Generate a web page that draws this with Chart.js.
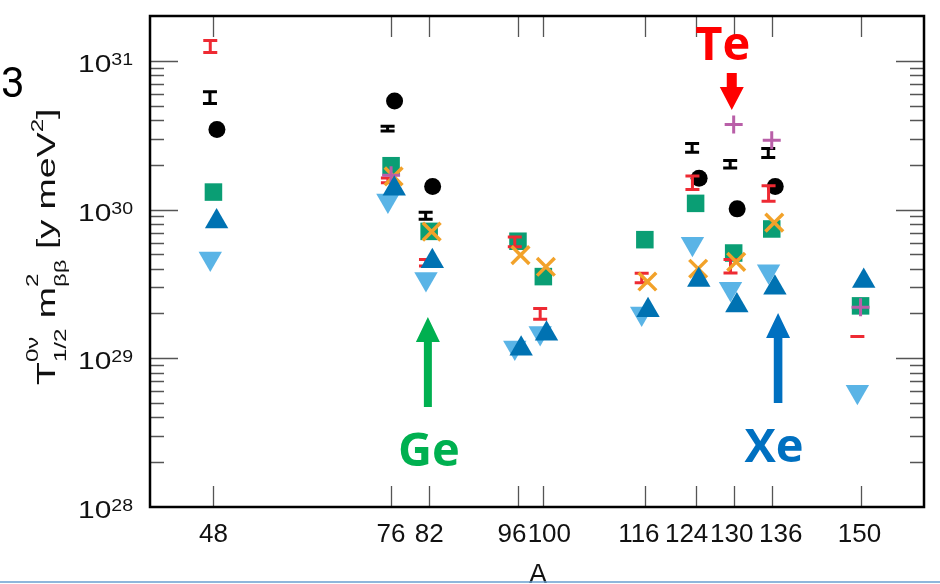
<!DOCTYPE html>
<html>
<head>
<meta charset="utf-8">
<script src="https://cdn.jsdelivr.net/npm/chart.js@4/dist/chart.umd.min.js"></script>
<style>
  html, body { margin: 0; padding: 0; background: #fff; }
  #wrap { width: 940px; height: 584px; position: relative; }
</style>
</head>
<body>
<div id="wrap"><canvas id="c" width="940" height="584"></canvas></div>
<script>
// Mass numbers of the double-beta emitters (x axis)
const massNumbers = [48, 76, 82, 96, 100, 116, 124, 130, 136, 150];

// T1/2 * m_bb^2 in y meV^2, one value per mass number (null = no point)
const blackDots     = [3.45e30, 5.37e30, 1.43e30, null,    null,    null,    1.62e30, 1.01e30, 1.43e30, null];
const greenSquares  = [1.31e30, 1.97e30, 7.13e29, 6.12e29, 3.54e29, 6.27e29, 1.10e30, 5.10e29, 7.40e29, 2.25e29];
const blueUp        = [8.3e29,  1.38e30, 4.49e29, 1.16e29, 1.46e29, 2.10e29, 3.36e29, 2.26e29, 2.98e29, 3.31e29];
const lightBlueDown = [4.69e29, 1.15e30, 3.41e29, 1.18e29, 1.48e29, 2.00e29, 5.89e29, 2.93e29, 3.85e29, 5.96e28];
const orangeCross   = [null,    1.67e30, 7.10e29, 4.94e29, 4.12e29, 3.28e29, 4.00e29, 4.45e29, 8.17e29, null];
const purplePlus    = [null,    1.70e30, null,    null,    null,    null,    null,    3.73e30, 2.92e30, 2.20e29];

// Ranges drawn as I-shaped bars (low / high ends)
const redRangeLow    = [1.11e31, 1.48e30, 4.07e29, 5.5e29, 1.79e29, 3.14e29, 1.33e30, 3.66e29, 1.11e30, 1.40e29];
const redRangeHigh   = [1.40e31, 1.67e30, 4.73e29, 6.7e29, 2.21e29, 3.82e29, 1.72e30, 4.73e29, 1.48e30, 1.40e29];
const blackRangeLow  = [5.05e30, 3.30e30, 8.4e29, null, null, null, 2.37e30, 1.86e30, 2.19e30, null];
const blackRangeHigh = [6.34e30, 3.72e30, 9.8e29, null, null, null, 2.84e30, 2.19e30, 2.63e30, null];

// Decade labels on the y axis
const yDecades = [1e28, 1e29, 1e30, 1e31];

function points(values, shift) {
  return massNumbers
    .map((a, i) => ({ x: a + shift, y: values[i] }))
    .filter(p => p.y != null);
}
function rangePoints(lows, highs, shift) {
  return massNumbers
    .map((a, i) => (lows[i] == null ? null : {
      x: a + shift, y: Math.sqrt(lows[i] * highs[i]), lo: lows[i], hi: highs[i]
    }))
    .filter(p => p !== null);
}

const FONT = '"Liberation Sans", Arial, Helvetica, sans-serif';

// text drawn with a horizontal stretch, right edge at (xr, base)
function wideTextRight(ctx, txt, xr, base, font, sx) {
  ctx.save();
  ctx.font = font;
  ctx.textAlign = 'right';
  ctx.translate(xr, base);
  ctx.scale(sx, 1);
  ctx.fillText(txt, 0, 0);
  const w = ctx.measureText(txt).width * sx;
  ctx.restore();
  return w;
}

// Draws the I-shaped ranges in the dataset stacking order, plus frame, ticks, labels, notes
const decorations = {
  id: 'decorations',
  afterDatasetDraw(chart, args) {
    const ds = chart.data.datasets[args.index];
    if (!ds.rangeColor) return;
    const { ctx, scales: { x, y } } = chart;
    ctx.save();
    ctx.strokeStyle = ds.rangeColor;
    ctx.lineWidth = 3;
    ds.data.forEach(p => {
      const px = x.getPixelForValue(p.x);
      let yl = y.getPixelForValue(p.lo);
      let yh = y.getPixelForValue(p.hi);
      ctx.beginPath();
      if (yl - yh < 3) {
        const m = (yl + yh) / 2;
        ctx.moveTo(px - 7, m); ctx.lineTo(px + 7, m);
      } else {
        yl -= 1.5; yh += 1.5;
        ctx.moveTo(px, yl); ctx.lineTo(px, yh);
        ctx.moveTo(px - 7, yl); ctx.lineTo(px + 7, yl);
        ctx.moveTo(px - 7, yh); ctx.lineTo(px + 7, yh);
      }
      ctx.stroke();
    });
    ctx.restore();
  },
  afterDraw(chart) {
    const { ctx, chartArea: ca, scales: { x, y } } = chart;
    ctx.save();

    // tick marks pointing inward
    ctx.strokeStyle = '#555';
    ctx.lineWidth = 1.3;
    ctx.beginPath();
    massNumbers.forEach(a => {
      const px = Math.round(x.getPixelForValue(a)) + 0.5;
      ctx.moveTo(px, ca.bottom); ctx.lineTo(px, ca.bottom - 21);
      ctx.moveTo(px, ca.top); ctx.lineTo(px, ca.top + 21);
    });
    for (let e = 28; e <= 31; e++) {
      for (let k = 1; k <= 9; k++) {
        const v = k * Math.pow(10, e);
        if (v <= y.min || v >= y.max) continue;
        const py = Math.round(y.getPixelForValue(v)) + 0.5;
        const len = k === 1 ? 28 : 14;
        ctx.moveTo(ca.left, py); ctx.lineTo(ca.left + len, py);
        ctx.moveTo(ca.right, py); ctx.lineTo(ca.right - len, py);
      }
    }
    ctx.stroke();

    // frame
    ctx.strokeStyle = '#000';
    ctx.lineWidth = 2.5;
    ctx.strokeRect(ca.left, ca.top, ca.right - ca.left, ca.bottom - ca.top);

    // x tick labels (crowded ones nudged apart)
    const nudge = { 96: -6, 100: 6, 116: -6, 124: -9, 130: -2, 136: 9, 150: -1 };
    ctx.fillStyle = '#111';
    ctx.font = '26px ' + FONT;
    ctx.textAlign = 'center';
    ctx.textBaseline = 'alphabetic';
    massNumbers.forEach(a => {
      ctx.fillText(String(a), x.getPixelForValue(a) + (nudge[a] || 0), 542);
    });

    // y tick labels 10^n
    yDecades.forEach(v => {
      const py = y.getPixelForValue(v);
      const exp = String(Math.round(Math.log10(v)));
      const w = wideTextRight(ctx, exp, 133, py + 4, '17px ' + FONT, 1.15);
      wideTextRight(ctx, '10', 133 - w, py + 11, '23px ' + FONT, 1.3);
    });

    // x title
    ctx.font = '27px ' + FONT;
    ctx.textAlign = 'center';
    ctx.fillText('A', 538, 583);

    // y title with sub/superscripts, rotated and stretched along the text
    ctx.save();
    ctx.translate(55, 385);
    ctx.rotate(-Math.PI / 2);
    ctx.scale(1.5, 1);
    ctx.textAlign = 'left';
    const big = '25px ' + FONT, small = '16px ' + FONT;
    let cx = 0;
    const put = (t, f, dy) => { ctx.font = f; ctx.fillText(t, cx, dy); return ctx.measureText(t).width; };
    const stack = (sup, sub) => {
      ctx.font = small;
      const w = Math.max(ctx.measureText(sup).width, ctx.measureText(sub).width);
      ctx.fillText(sup, cx, -17);
      ctx.fillText(sub, cx, 11);
      cx += w;
    };
    cx += put('T', big, 0);
    stack('0\u03BD', '1/2');
    cx += 7;
    cx += put('m', big, 0);
    stack('2', '\u03B2\u03B2');
    cx += put(' [y meV', big, 0);
    ctx.font = small; ctx.fillText('2', cx, -12); cx += ctx.measureText('2').width;
    cx += put(']', big, 0);
    ctx.restore();

    // stray slide numeral at the left edge
    ctx.font = '42px Roboto, "Open Sans", sans-serif';
    ctx.textAlign = 'left';
    ctx.fillStyle = '#000';
    ctx.fillText('3', 1, 97);

    // element notes with arrows
    const arrowUp = (cxp, tip, headBase, shaftEnd, headW, shaftW, color) => {
      ctx.fillStyle = color;
      ctx.beginPath();
      ctx.moveTo(cxp, tip);
      ctx.lineTo(cxp + headW / 2, headBase);
      ctx.lineTo(cxp + shaftW / 2, headBase);
      ctx.lineTo(cxp + shaftW / 2, shaftEnd);
      ctx.lineTo(cxp - shaftW / 2, shaftEnd);
      ctx.lineTo(cxp - shaftW / 2, headBase);
      ctx.lineTo(cxp - headW / 2, headBase);
      ctx.closePath();
      ctx.fill();
    };
    ctx.font = 'bold 47px "Open Sans", Roboto, sans-serif';
    ctx.textAlign = 'center';

    const teX = x.getPixelForValue(129.7);
    ctx.fillStyle = '#ff0000';
    ctx.fillText('Te', teX - 9, 60);
    arrowUp(teX, 110, 87, 73, 24, 10, '#ff0000');

    const geX = x.getPixelForValue(81.8);
    arrowUp(geX, 317, 342, 407, 24, 8, '#00b050');
    ctx.fillStyle = '#00b050';
    ctx.fillText('Ge', geX + 1, 466);

    const xeX = x.getPixelForValue(137);
    arrowUp(xeX, 313, 338, 403, 24, 8.6, '#0070c0');
    ctx.fillStyle = '#0070c0';
    ctx.fillText('Xe', xeX - 4, 462);

    // thin rule along the bottom edge
    ctx.strokeStyle = '#6a9fcf';
    ctx.lineWidth = 1.5;
    ctx.beginPath();
    ctx.moveTo(0, 582); ctx.lineTo(940, 582);
    ctx.stroke();

    ctx.restore();
  }
};

const marker = (data, style, radius, fill, extra) => Object.assign({
  data, pointStyle: style, pointRadius: radius, pointHoverRadius: radius,
  backgroundColor: fill, borderColor: fill, borderWidth: 0, showLine: false
}, extra || {});

new Chart(document.getElementById('c'), {
  type: 'scatter',
  data: {
    datasets: [
      marker(points(blueUp, 0.5), 'triangle', 13.5, '#0072b2'),
      marker(points(purplePlus, 0), 'cross', 9, '#b95fa8', { borderColor: '#b95fa8', borderWidth: 3 }),
      marker(points(orangeCross, 0.4), 'crossRot', 12.5, '#f2a22a', { borderColor: '#f2a22a', borderWidth: 3.5 }),
      { data: rangePoints(redRangeLow, redRangeHigh, -0.5), pointRadius: 0, rangeColor: '#ee2a33' },
      marker(points(lightBlueDown, -0.5), 'triangle', 13.5, '#5ab4e6', { rotation: 180 }),
      marker(points(greenSquares, 0), 'rect', 12.4, '#0a9e74'),
      { data: rangePoints(blackRangeLow, blackRangeHigh, -0.55), pointRadius: 0, rangeColor: '#000000' },
      marker(points(blackDots, 0.55), 'circle', 8.5, '#000000')
    ]
  },
  options: {
    responsive: false,
    animation: false,
    devicePixelRatio: 1,
    events: [],
    layout: { padding: { top: 7, right: 13, left: 0, bottom: 0 } },
    plugins: { legend: { display: false }, tooltip: { enabled: false } },
    scales: {
      x: {
        type: 'linear', min: 38, max: 160,
        grid: { display: false }, border: { display: false },
        ticks: { display: false },
        afterFit: s => { s.height = 77; }
      },
      y: {
        type: 'logarithmic', min: 1e28, max: 2e31,
        grid: { display: false }, border: { display: false },
        ticks: { display: false },
        afterFit: s => { s.width = 150; }
      }
    }
  },
  plugins: [decorations]
});
</script>
</body>
</html>
